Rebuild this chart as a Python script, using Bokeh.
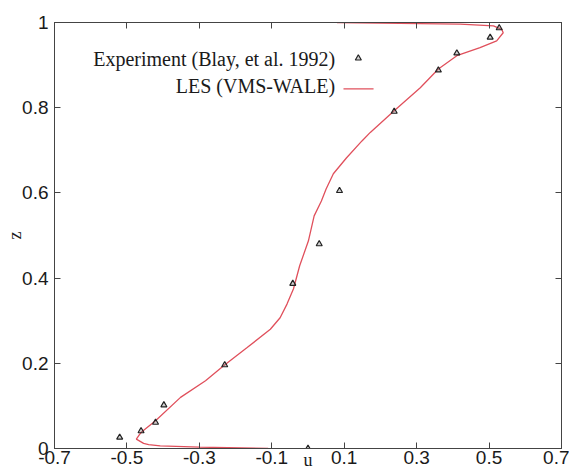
from bokeh.plotting import figure
from bokeh.models import LinearAxis, FixedTicker, Range1d, Label
from bokeh.embed import file_html
from bokeh.resources import INLINE

# ---- data ----
x_ticks = [-0.7, -0.5, -0.3, -0.1, 0.1, 0.3, 0.5, 0.7]
x_tick_labels = ["-0.7", "-0.5", "-0.3", "-0.1", "0.1", "0.3", "0.5", "0.7"]
y_ticks = [0.0, 0.2, 0.4, 0.6, 0.8, 1.0]
y_tick_labels = ["0", "0.2", "0.4", "0.6", "0.8", "1"]

exp_u = [0.000, -0.520, -0.461, -0.421, -0.398, -0.230, -0.042, 0.031, 0.087,
         0.238, 0.360, 0.411, 0.503, 0.528]
exp_z = [0.000, 0.026, 0.041, 0.061, 0.102, 0.196, 0.387, 0.480, 0.605,
         0.791, 0.888, 0.928, 0.965, 0.987]

les_u = [-0.110, -0.300, -0.408, -0.440, -0.454, -0.474, -0.465, -0.458, -0.421,
         -0.352, -0.283, -0.233, -0.168, -0.104, -0.077, -0.058, -0.040, -0.023,
         0.001, 0.017, 0.037, 0.050, 0.070, 0.106, 0.149, 0.172, 0.238, 0.310,
         0.360, 0.411, 0.475, 0.521, 0.539, 0.535, 0.512, 0.420, 0.254, 0.080]
les_z = [0.000, 0.003, 0.006, 0.009, 0.012, 0.022, 0.033, 0.040, 0.065,
         0.120, 0.159, 0.194, 0.237, 0.280, 0.307, 0.339, 0.375, 0.429,
         0.487, 0.546, 0.581, 0.609, 0.645, 0.682, 0.722, 0.742, 0.793, 0.847,
         0.891, 0.922, 0.941, 0.957, 0.976, 0.984, 0.992, 0.996, 0.998, 1.000]

exp_label = "Experiment (Blay, et al. 1992)"
les_label = "LES (VMS-WALE)"
x_title = "u"
y_title = "z"

RED = "#e0505c"
MARK = "#222222"
FRAME = "#444444"
TXT = "#1a1a1a"
SERIF = "Liberation Serif"
SANS = "Liberation Sans"

p = figure(width=569, height=476, x_range=Range1d(-0.7, 0.7), y_range=Range1d(0, 1),
           output_backend="svg", toolbar_location=None,
           min_border_left=54, min_border_right=8, min_border_top=22, min_border_bottom=28)
p.grid.visible = False
p.outline_line_color = FRAME
p.background_fill_color = "white"
p.border_fill_color = "white"

def style_axis(ax, ticks, labels, show_labels):
    ax.ticker = FixedTicker(ticks=ticks)
    if show_labels:
        ax.major_label_overrides = {t: l for t, l in zip(ticks, labels)}
        ax.major_label_text_font_size = "19px"
        ax.major_label_standoff = 2
    else:
        ax.major_label_overrides = {t: "" for t in ticks}
        ax.major_label_standoff = 0
    ax.major_tick_in = 6
    ax.major_tick_out = 0
    ax.minor_tick_in = 0
    ax.minor_tick_out = 0
    ax.axis_line_color = FRAME
    ax.major_tick_line_color = FRAME
    ax.major_label_text_font = SANS
    ax.major_label_text_color = TXT

def style_title(ax, title, standoff):
    ax.axis_label = title
    ax.axis_label_text_font = SERIF
    ax.axis_label_text_font_style = "normal"
    ax.axis_label_text_font_size = "18px"
    ax.axis_label_text_color = TXT
    ax.axis_label_standoff = standoff

style_axis(p.xaxis[0], x_ticks, x_tick_labels, True)
style_axis(p.yaxis[0], y_ticks, y_tick_labels, True)
p.yaxis[0].major_label_standoff = 6
style_title(p.yaxis[0], y_title, -6)
style_title(p.xaxis[0], x_title, -17)

top = LinearAxis()
style_axis(top, x_ticks, x_tick_labels, False)
p.add_layout(top, "above")
right = LinearAxis()
style_axis(right, y_ticks, y_tick_labels, False)
p.add_layout(right, "right")

# data
p.line(les_u, les_z, line_color=RED, line_width=1.3)
p.scatter(exp_u, exp_z, marker="triangle", size=6, line_color=MARK,
          line_width=1.2, fill_color="#777777", fill_alpha=0.35)

# legend (gnuplot style: text left, sample right)
LEG_TEXT_X = 0.075
p.add_layout(Label(x=LEG_TEXT_X, y=0.915, text=exp_label, text_align="right",
                   text_baseline="alphabetic", text_font=SERIF, text_font_size="20px",
                   text_color=TXT))
p.add_layout(Label(x=LEG_TEXT_X, y=0.851, text=les_label, text_align="right",
                   text_baseline="alphabetic", text_font=SERIF, text_font_size="20px",
                   text_color=TXT))
p.scatter([0.139], [0.916], marker="triangle", size=6, line_color=MARK,
          line_width=1.2, fill_color="#777777", fill_alpha=0.35)
p.line([0.098, 0.181], [0.844, 0.844], line_color=RED, line_width=1.3)

open("out.html", "w").write(file_html(p, INLINE))
